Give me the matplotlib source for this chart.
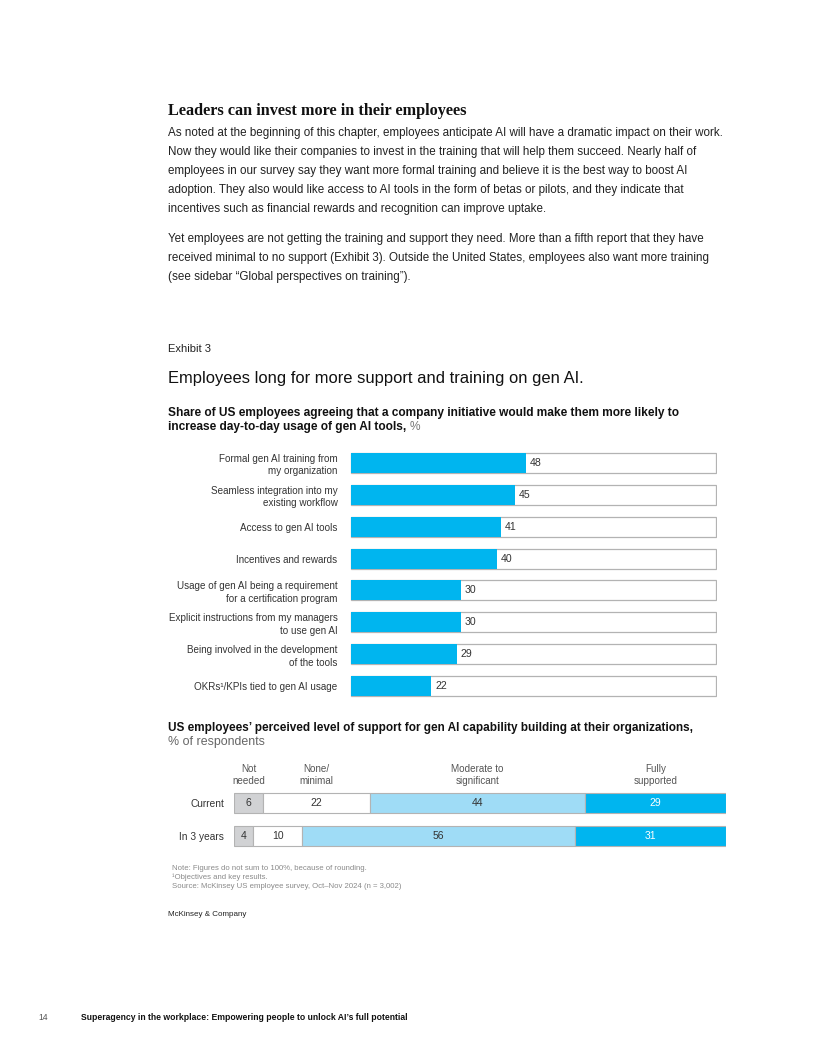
import matplotlib
matplotlib.use("Agg")
import matplotlib.pyplot as plt
import matplotlib.transforms as mtransforms

# ---------------------------------------------------------
# Data
# ---------------------------------------------------------
initiatives = [
    "Formal gen AI training from\nmy organization",
    "Seamless integration into my\nexisting workflow",
    "Access to gen AI tools",
    "Incentives and rewards",
    "Usage of gen AI being a requirement\nfor a certification program",
    "Explicit instructions from my managers\nto use gen AI",
    "Being involved in the development\nof the tools",
    "OKRs\u00b9/KPIs tied to gen AI usage",
]
initiative_share = [48, 45, 41, 40, 30, 30, 29, 22]

support_rows = ["Current", "In 3 years"]
support_levels = ["Not\nneeded", "None/\nminimal", "Moderate to\nsignificant", "Fully\nsupported"]
not_needed = [6, 4]
none_minimal = [22, 10]
moderate = [44, 56]
fully = [29, 31]

body_1 = [
    "As noted at the beginning of this chapter, employees anticipate AI will have a dramatic impact on their work.",
    "Now they would like their companies to invest in the training that will help them succeed. Nearly half of",
    "employees in our survey say they want more formal training and believe it is the best way to boost AI",
    "adoption. They also would like access to AI tools in the form of betas or pilots, and they indicate that",
    "incentives such as financial rewards and recognition can improve uptake.",
]
body_2 = [
    "Yet employees are not getting the training and support they need. More than a fifth report that they have",
    "received minimal to no support (Exhibit 3). Outside the United States, employees also want more training",
    "(see sidebar \u201cGlobal perspectives on training\u201d).",
]

# ---------------------------------------------------------
# Style
# ---------------------------------------------------------
SANS = ["Liberation Sans", "DejaVu Sans"]
SERIF = ["Liberation Serif", "DejaVu Serif"]
BLUE = "#00b5ef"
LIGHT_BLUE = "#9fdcf6"
GREY_SEG = "#d1d2d4"
FRAME = "#b3b3b3"
TXT = "#222222"
LABEL = "#333333"

W, H = 816, 1056
fig = plt.figure(figsize=(W / 100, H / 100), dpi=100)


def fx(x):
    return x / W


def fy(y):
    return 1 - y / H


def ftext(x, y, s, **kw):
    kw.setdefault("va", "center")
    kw.setdefault("family", SANS)
    return fig.text(fx(x), fy(y), s, **kw)


# Page text
ftext(168, 111, "Leaders can invest more in their employees", family=SERIF,
      fontsize=11.7, fontweight="bold", color="#111111")
for i, line in enumerate(body_1):
    ftext(168, 133 + 19 * i, line, fontsize=8.4, color=TXT)
for i, line in enumerate(body_2):
    ftext(168, 239 + 19 * i, line, fontsize=8.4, color=TXT)

ftext(168, 349, "Exhibit 3", fontsize=8, color=TXT)
ftext(168, 378, "Employees long for more support and training on gen AI.",
      fontsize=11.9, color="#111111")
ftext(168, 413, "Share of US employees agreeing that a company initiative would make them more likely to",
      fontsize=8.6, fontweight="bold", color="#111111")
t = ftext(168, 427, "increase day-to-day usage of gen AI tools, ",
          fontsize=8.6, fontweight="bold", color="#111111")
fig.canvas.draw()
bb = t.get_window_extent()
fig.text(bb.x1 / W, fy(427), "%", family=SANS, fontsize=8.6, color="#777777", va="center")

# ---------------------------------------------------------
# Top chart: horizontal bars
# ---------------------------------------------------------
row_h = 31.86
n = len(initiatives)
top = 463 - row_h / 2
ax1 = fig.add_axes([fx(350), fy(top + n * row_h), fx(717) - fx(350), (n * row_h) / H])
ypos = list(range(n))
ax1.barh(ypos, [100] * n, height=0.63, color="white", edgecolor=FRAME, linewidth=0.9)
ax1.barh(ypos, initiative_share, height=0.63, color=BLUE, edgecolor="none")
for y, v in zip(ypos, initiative_share):
    ax1.text(v + 1.0, y, str(v), va="center", ha="left", fontsize=7.6, color=LABEL, family=SANS)
ax1.set_xlim(-0.3, 100.3)
ax1.set_ylim(n - 0.5, -0.5)
ax1.set_yticks(ypos)
ax1.set_yticklabels(initiatives, family=SANS, fontsize=7.1, color=LABEL, linespacing=1.3)
ax1.tick_params(axis="y", length=0, pad=9)
ax1.set_xticks([])
for s in ax1.spines.values():
    s.set_visible(False)

# ---------------------------------------------------------
# Bottom chart: stacked bars
# ---------------------------------------------------------
ftext(168, 728, "US employees\u2019 perceived level of support for gen AI capability building at their organizations,",
      fontsize=8.5, fontweight="bold", color="#111111")
ftext(168, 742, "% of respondents", fontsize=8.9, color="#666666")

row_h2 = 33
ax2 = fig.add_axes([fx(234), fy(803 - row_h2 / 2 + 2 * row_h2), fx(726) - fx(234), 2 * row_h2 / H])
segments = [not_needed, none_minimal, moderate, fully]
seg_colors = [GREY_SEG, "white", LIGHT_BLUE, BLUE]
txt_colors = [LABEL, LABEL, LABEL, "white"]
left = [0, 0]
centers_current = []
for vals, col, tcol in zip(segments, seg_colors, txt_colors):
    ax2.barh([0, 1], vals, left=left, height=0.6, color=col, edgecolor=FRAME, linewidth=0.8)
    for r in range(2):
        c = left[r] + vals[r] / 2
        ax2.text(c, r, str(vals[r]), ha="center", va="center", fontsize=7.5, color=tcol, family=SANS)
    centers_current.append(left[0] + vals[0] / 2)
    left = [left[r] + vals[r] for r in range(2)]
ax2.set_xlim(0, sum(s[0] for s in segments))
ax2.set_ylim(1.5, -0.5)
ax2.set_yticks([0, 1])
ax2.set_yticklabels(support_rows, family=SANS, fontsize=7.3, color=LABEL)
ax2.tick_params(axis="y", length=0, pad=7)
ax2.set_xticks([])
for s in ax2.spines.values():
    s.set_visible(False)

trans = mtransforms.blended_transform_factory(ax2.transData, fig.transFigure)
for c, lab in zip(centers_current, support_levels):
    ax2.text(c, fy(775), lab, transform=trans, ha="center", va="center", fontsize=7.1,
             color="#555555", family=SANS, linespacing=1.3)

# Notes and footer
ftext(172, 868, "Note: Figures do not sum to 100%, because of rounding.", fontsize=5.6, color="#8a8a8a")
ftext(172, 877, "\u00b9Objectives and key results.", fontsize=5.6, color="#8a8a8a")
ftext(172, 886, "Source: McKinsey US employee survey, Oct\u2013Nov 2024 (n = 3,002)", fontsize=5.6, color="#8a8a8a")
ftext(168, 914, "McKinsey & Company", fontsize=5.8, color="#222222")
ftext(38, 1017, "14", fontsize=6.2, color="#555555")
ftext(81, 1017, "Superagency in the workplace: Empowering people to unlock AI\u2019s full potential",
      fontsize=6.2, fontweight="bold", color="#111111")

fig.savefig("out.png", dpi=100)
